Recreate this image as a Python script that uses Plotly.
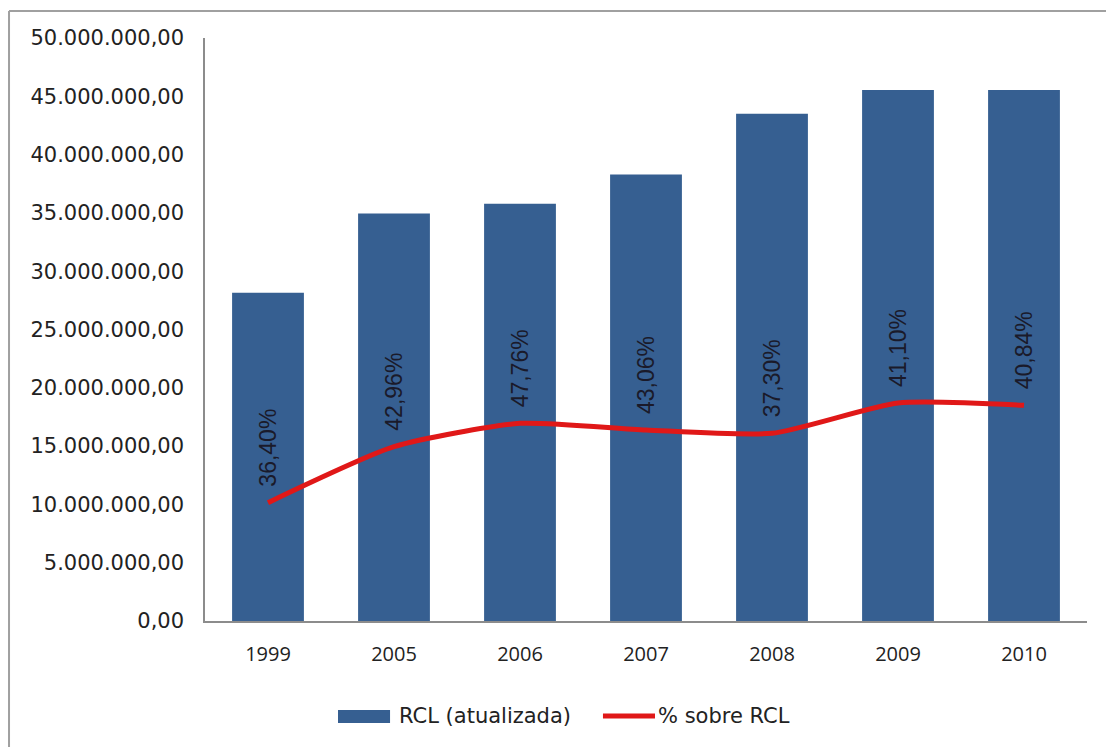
import plotly.graph_objects as go

years = ["1999", "2005", "2006", "2007", "2008", "2009", "2010"]
rcl = [28160000, 34950000, 35780000, 38300000, 43500000, 45550000, 45550000]
pct_line = [10150000, 14950000, 16950000, 16380000, 16100000, 18700000, 18500000]
pct_labels = ["36,40%", "42,96%", "47,76%", "43,06%", "37,30%", "41,10%", "40,84%"]
y_tickvals = [0, 5e6, 10e6, 15e6, 20e6, 25e6, 30e6, 35e6, 40e6, 45e6, 50e6]
y_ticktext = ["0,00", "5.000.000,00", "10.000.000,00", "15.000.000,00", "20.000.000,00",
              "25.000.000,00", "30.000.000,00", "35.000.000,00", "40.000.000,00",
              "45.000.000,00", "50.000.000,00"]

BLUE = "#365f91"
RED = "#e01818"

fig = go.Figure()
fig.add_trace(go.Bar(x=years, y=rcl, marker=dict(color=BLUE, line=dict(width=0)),
                     name="RCL (atualizada)", showlegend=False))
fig.add_trace(go.Scatter(x=years, y=pct_line, mode="lines",
                         line=dict(color=RED, width=5, shape="spline", smoothing=0.6),
                         name="% sobre RCL", showlegend=False))

annotations = []
for i, (v, t) in enumerate(zip(pct_line, pct_labels)):
    annotations.append(dict(x=i, y=v, text=t, textangle=-90, showarrow=False,
                            xanchor="center", yanchor="bottom", yshift=14,
                            font=dict(family="Liberation Sans, Arial", size=23, color="#1a1a2a")))

# custom legend
annotations.append(dict(xref="paper", yref="paper", x=0.2177, y=-0.163, text="RCL (atualizada)",
                        showarrow=False, xanchor="left", yanchor="middle",
                        font=dict(family="DejaVu Sans", size=21, color="#222")))
annotations.append(dict(xref="paper", yref="paper", x=0.5113, y=-0.163, text="% sobre RCL",
                        showarrow=False, xanchor="left", yanchor="middle",
                        font=dict(family="DejaVu Sans", size=21, color="#222")))

shapes = [
    dict(type="rect", xref="paper", yref="paper", x0=0.1508, x1=0.2098, y0=-0.175, y1=-0.1527,
         fillcolor=BLUE, line=dict(width=0)),
    dict(type="line", xref="paper", yref="paper", x0=0.4512, x1=0.5102, y0=-0.163, y1=-0.163,
         line=dict(color=RED, width=5)),
    # outer chart border
    dict(type="line", xref="paper", yref="paper", x0=-0.2222, x1=1.03, y0=1.0463, y1=1.0463,
         line=dict(color="#a0a0a0", width=2)),
    dict(type="line", xref="paper", yref="paper", x0=-0.2222, x1=-0.2222, y0=1.0463, y1=-0.25,
         line=dict(color="#a0a0a0", width=2)),
]

fig.update_layout(
    width=1106, height=747,
    margin=dict(l=205, r=19, t=38, b=126),
    paper_bgcolor="white", plot_bgcolor="white",
    bargap=0.43,
    showlegend=False,
    annotations=annotations,
    shapes=shapes,
    xaxis=dict(type="category", range=[-0.5, 6.5], showline=True, linecolor="#8c8c8c",
               linewidth=1.5, showgrid=False, ticks="", ticklabelstandoff=14,
               tickfont=dict(family="Open Sans", size=20, color="#222")),
    yaxis=dict(range=[0, 50e6], tickvals=y_tickvals, ticktext=y_ticktext,
               showline=True, linecolor="#8c8c8c", linewidth=1.5, showgrid=False,
               zeroline=False, ticks="", ticklabelstandoff=15,
               tickfont=dict(family="DejaVu Sans", size=21, color="#222")),
)

fig.write_html("out.html")
